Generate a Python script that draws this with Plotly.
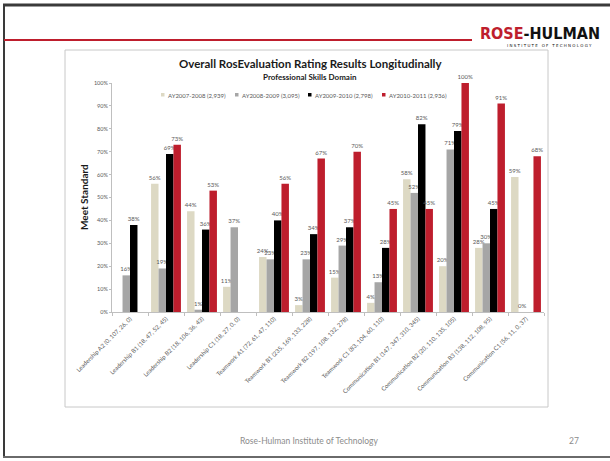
import plotly.graph_objects as go

W, H = 610, 461

categories = [
    "Leadership A2 (0, 107, 26, 0)",
    "Leadership B1 (18, 47, 52, 45)",
    "Leadership B2 (18, 106, 36, 43)",
    "Leadership C1 (18, 27, 0, 0)",
    "Teamwork A1 (72, 61, 47, 110)",
    "Teamwork B1 (235, 169, 133, 228)",
    "Teamwork B2 (197, 108, 132, 278)",
    "Teamwork C1 (83, 104, 60, 110)",
    "Communication B1 (147, 347, 310, 345)",
    "Communication B2 (20, 110, 135, 105)",
    "Communication B3 (138, 112, 108, 95)",
    "Communication C1 (56, 11, 0, 37)",
]

# share meeting the standard per academic year (None = no students rated)
ay2007 = [None, 0.56, 0.44, 0.11, 0.24, 0.03, 0.15, 0.04, 0.58, 0.20, 0.28, 0.59]
ay2008 = [0.16, 0.19, 0.01, 0.37, 0.23, 0.23, 0.29, 0.13, 0.52, 0.71, 0.30, 0.00]
ay2009 = [0.38, 0.69, 0.36, None, 0.40, 0.34, 0.37, 0.28, 0.82, 0.79, 0.45, None]
ay2010 = [None, 0.73, 0.53, None, 0.56, 0.67, 0.70, 0.45, 0.45, 1.00, 0.91, 0.68]

series_names = ["AY2007-2008 (2,939)", "AY2008-2009 (3,095)",
                "AY2009-2010 (2,798)", "AY2010-2011 (2,936)"]
series_values = [ay2007, ay2008, ay2009, ay2010]
series_colors = ["#DDD9C4", "#A6A6A6", "#000000", "#BE1E2D"]

y_ticks = [i / 10 for i in range(11)]
y_tick_text = [f"{i * 10}%" for i in range(11)]

FONT = "Lato"
RED = "#BE1E2D"


def px(x):
    return x / W


def py(y):
    return 1 - y / H


def label(text, x, y, size, color="#1A1A1A", family=FONT, xanchor="center", **kw):
    return dict(text=text, x=px(x), y=py(y), xref="paper", yref="paper",
                xanchor=xanchor, yanchor="middle", showarrow=False,
                font=dict(family=family, size=size, color=color), **kw)


fig = go.Figure()
for name, vals, col in zip(series_names, series_values, series_colors):
    fig.add_trace(go.Bar(
        x=categories, y=vals, name=name,
        marker=dict(color=col, line=dict(width=0)),
        texttemplate="%{y:.0%}", textposition="outside", constraintext="none",
        textfont=dict(family=FONT, size=6, color="#595959"),
        cliponaxis=False, showlegend=False,
    ))

shapes = [
    # slide frame
    dict(type="line", xref="paper", yref="paper", x0=px(3), x1=px(610), y0=py(5), y1=py(5),
         line=dict(color="#3A3A3A", width=3)),
    dict(type="line", xref="paper", yref="paper", x0=px(4), x1=px(4), y0=py(4), y1=py(457),
         line=dict(color="#3A3A3A", width=2)),
    dict(type="line", xref="paper", yref="paper", x0=px(3), x1=px(610), y0=py(457), y1=py(457),
         line=dict(color="#6A6A6A", width=2)),
    # red header rule
    dict(type="line", xref="paper", yref="paper", x0=px(4), x1=px(472), y0=py(40), y1=py(40),
         line=dict(color=RED, width=2)),
    # chart border
    dict(type="rect", xref="paper", yref="paper", x0=px(65), x1=px(548), y0=py(407), y1=py(50),
         line=dict(color="#C8C8C8", width=1)),
]

annotations = [
    label("<b>Overall RosEvaluation Rating Results Longitudinally</b>", 310, 63, 11.5),
    label("<b>Professional Skills Domain</b>", 310, 77, 8),
    label("<b>Meet Standard</b>", 84, 197, 10, textangle=-90),
    label("Rose-Hulman Institute of Technology", 309, 441, 8.5, color="#8C8C8C"),
    label("27", 574, 441, 8.5, color="#8C8C8C"),
    label(f"<b><span style='color:{RED}'>ROSE</span>-HULMAN</b>", 540, 33, 16,
          color="#111111", family="DejaVu Sans Condensed"),
    label("I N S T I T U T E &nbsp; O F &nbsp; T E C H N O L O G Y", 549, 45, 4,
          color="#111111", family="DejaVu Sans"),
]

# legend row
legend_x = [161, 235, 308, 382]
for name, col, lx in zip(series_names, series_colors, legend_x):
    shapes.append(dict(type="rect", xref="paper", yref="paper",
                       x0=px(lx), x1=px(lx + 3.5), y0=py(96.5), y1=py(93),
                       fillcolor=col, line=dict(width=0)))
    annotations.append(label(name, lx + 5, 95, 6, color="#595959", xanchor="left"))

fig.update_layout(
    width=W, height=H,
    margin=dict(l=0, r=0, t=0, b=0),
    paper_bgcolor="white", plot_bgcolor="white",
    barmode="group", bargap=0.17, bargroupgap=0,
    shapes=shapes, annotations=annotations,
    xaxis=dict(
        domain=[px(112), px(544)], automargin=False,
        type="category", tickangle=-45, tickson="boundaries",
        ticks="outside", ticklen=3, tickcolor="#BFBFBF",
        showline=True, linecolor="#BFBFBF", linewidth=1, showgrid=False,
        tickfont=dict(family=FONT, size=6, color="#595959"),
    ),
    yaxis=dict(
        domain=[py(312), py(83)], automargin=False,
        range=[0, 1], tickvals=y_ticks, ticktext=y_tick_text,
        ticks="outside", ticklen=2, tickcolor="#BFBFBF",
        showline=True, linecolor="#BFBFBF", linewidth=1,
        showgrid=False, zeroline=False,
        tickfont=dict(family=FONT, size=5.5, color="#595959"),
    ),
)

fig.write_html("out.html")
